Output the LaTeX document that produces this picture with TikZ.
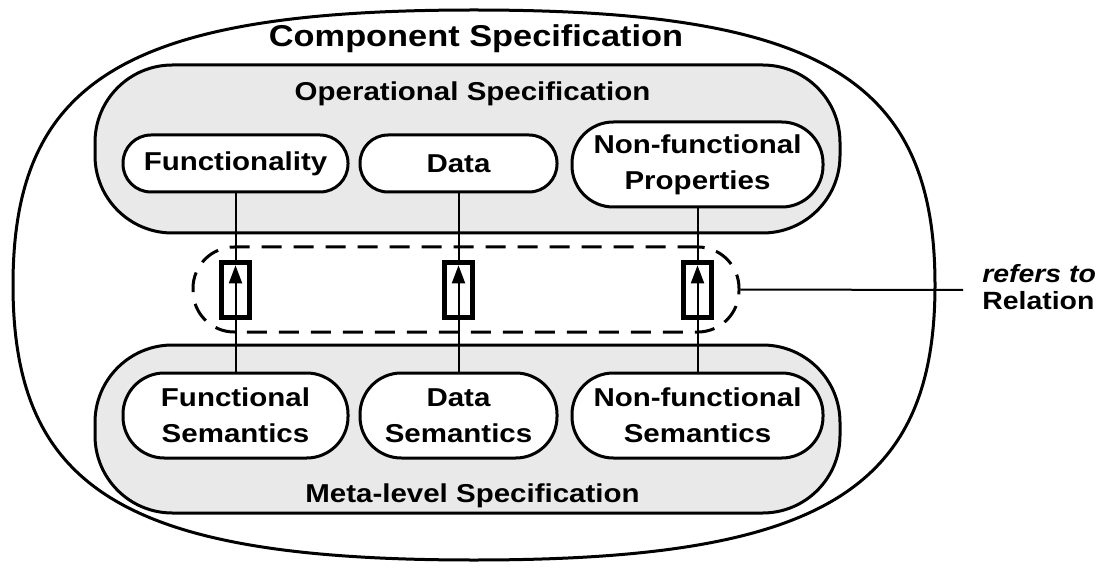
\documentclass[tikz,border=0pt]{standalone}
\usepackage{fontspec}
\setmainfont{Liberation Sans}[FakeStretch=1.14]
\usetikzlibrary{arrows.meta,calc}
\definecolor{panelgray}{RGB}{233,233,233}
\begin{document}
\begin{tikzpicture}[x=0.75pt,y=-0.75pt,
  outerline/.style={draw=black, line width=2.25pt, fill=white},
  panel/.style={draw=black, line width=2.25pt, fill=panelgray, rounded corners=58pt,
    minimum width=745*0.75pt, minimum height=168*0.75pt, inner sep=0pt},
  item/.style={draw=black, line width=2.25pt, fill=white, align=center, inner sep=0pt,
    font=\bfseries\fontsize{19.4}{27}\selectfont},
  single/.style={item, minimum height=57*0.75pt, rounded corners=21pt},
  double/.style={item, minimum height=85*0.75pt, rounded corners=31pt},
  paneltitle/.style={anchor=base, inner sep=0pt, font=\bfseries\fontsize{19.4}{23}\selectfont},
  conn/.style={draw=black, line width=1.5pt},
  relregion/.style={draw=black, line width=2.25pt, dash pattern=on 15pt off 9pt,
    rounded corners=31pt, minimum width=546*0.75pt, minimum height=85*0.75pt, inner sep=0pt},
  relbox/.style={draw=black, line width=3.75pt, fill=white, inner sep=0pt,
    minimum width=21pt, minimum height=41.25pt},
  relarrow/.style={draw=black, line width=1.5pt, -{Triangle[length=13.5pt,width=9.75pt]}},
  sidelabel/.style={anchor=base west, inner sep=0pt, font=\bfseries\fontsize{18.7}{22}\selectfont}
]
\useasboundingbox (0,0) rectangle (1106,570);

% outer component shape
\path[outerline] (935,285) .. controls (935,79) and (820,10) .. (474,10)
  .. controls (128,10) and (13,79) .. (13,285)
  .. controls (13,491) and (128,560) .. (474,560)
  .. controls (820,560) and (935,491) .. (935,285) -- cycle;
\node[anchor=base, inner sep=0pt, font=\bfseries\fontsize{22.6}{27}\selectfont] (title) at (476,47) {Component Specification};

% panels
\node[panel] (op) at (467.5,149) {};
\node[panel] (meta) at (467.5,429) {};
\node[paneltitle] (optitle) at (472.5,101) {Operational Specification};
\node[paneltitle] (metatitle) at (472.5,502) {Meta-level Specification};

% items
\node[single, minimum width=225*0.75pt] (f) at (235.5,163.5) {Functionality};
\node[single, minimum width=197*0.75pt] (d) at (458.5,163.5) {Data};
\node[double, minimum width=251*0.75pt] (n) at (697.5,164.5) {Non-functional\\Properties};
\node[double, minimum width=225*0.75pt] (fs) at (235.5,415.5) {Functional\\Semantics};
\node[double, minimum width=197*0.75pt] (ds) at (458.5,415.5) {Data\\Semantics};
\node[double, minimum width=251*0.75pt] (ns) at (697.5,415.5) {Non-functional\\Semantics};

% connectors
\draw[conn] (f) -- (fs);
\draw[conn] (d) -- (ds);
\draw[conn] (n) -- (ns);

% refers-to region
\node[relregion] (rel) at (466,289.5) {};
\node[relbox] (rb1) at (235.5,290) {};
\node[relbox] (rb2) at (458.5,290) {};
\node[relbox] (rb3) at (697.5,290) {};
\draw[relarrow] ([yshift=4pt]rb1.south) -- ([yshift=-4pt]rb1.north);
\draw[relarrow] ([yshift=4pt]rb2.south) -- ([yshift=-4pt]rb2.north);
\draw[relarrow] ([yshift=4pt]rb3.south) -- ([yshift=-4pt]rb3.north);

\coordinate (relend) at (963,290);
\draw[conn] (rel.east) -- (relend);
\node[sidelabel, font=\bfseries\itshape\fontsize{18.7}{22}\selectfont] (refers) at (982,282) {refers to};
\node[sidelabel] (relation) at (982,310) {Relation};
\end{tikzpicture}
\end{document}
